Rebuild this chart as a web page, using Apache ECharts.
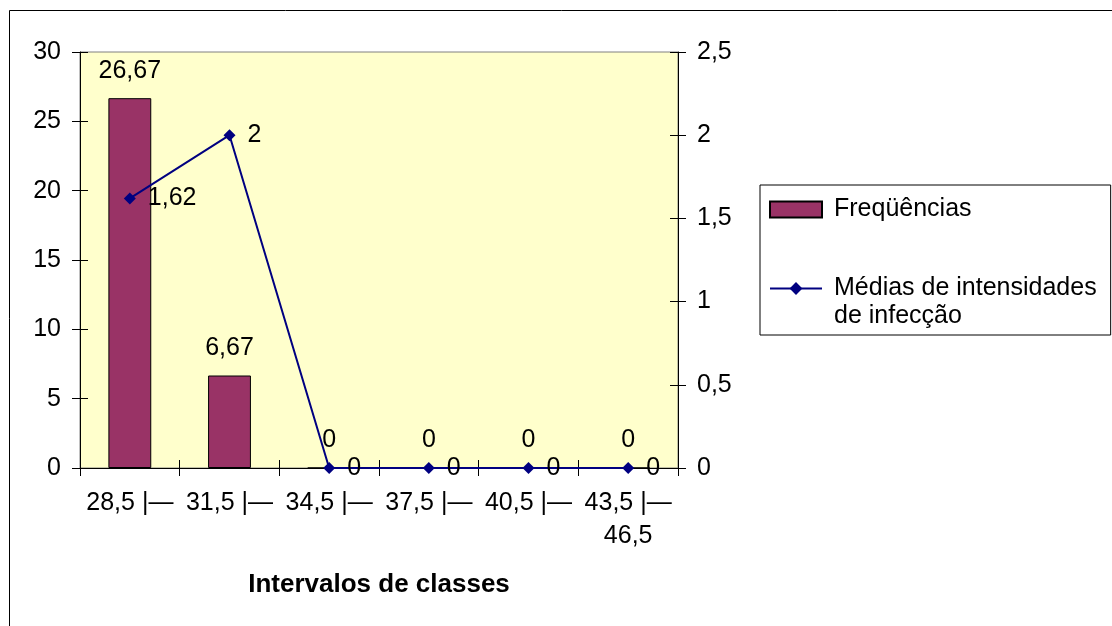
<!DOCTYPE html>
<html>
<head>
<meta charset="utf-8">
<script src="https://cdn.jsdelivr.net/npm/echarts@6/dist/echarts.min.js"></script>
<style>
  html, body { margin: 0; padding: 0; background: #fff; }
  #chart { width: 1112px; height: 626px; }
</style>
</head>
<body>
<div id="chart"></div>
<script>
// Class intervals (x-axis categories)
const categories = ['28,5 |—', '31,5 |—', '34,5 |—', '37,5 |—', '40,5 |—', '43,5 |—\n46,5'];
// Bar series: frequencies (%)
const frequencias = [26.67, 6.67, 0, 0, 0, 0];
// Line series: mean infection intensities
const medias = [1.62, 2, 0, 0, 0, 0];
// Tick values of both value axes
const leftTicks = [0, 5, 10, 15, 20, 25, 30];
const rightTicks = [0, 0.5, 1, 1.5, 2, 2.5];

const barName = 'Freqüências';
const lineName = 'Médias de intensidades de infecção';
const xTitle = 'Intervalos de classes';

const FONT = "'Liberation Sans', Arial, sans-serif";
const FS = 25;
const comma = v => String(v).replace('.', ',');

const gridRect = { left: 80, right: 434, top: 52, bottom: 158 };
const tickColor = '#000';

function valueAxis(ticks, opts) {
  return Object.assign({
    type: 'value',
    min: ticks[0],
    max: ticks[ticks.length - 1],
    interval: ticks[1] - ticks[0],
    splitLine: { show: false },
    axisLine: { show: true, lineStyle: { color: '#000', width: 1 } },
    axisTick: { show: true, inside: false, length: 8, lineStyle: { color: tickColor } },
    axisLabel: { color: '#000', fontFamily: FONT, fontSize: FS, margin: 19, formatter: comma }
  }, opts);
}

const chart = echarts.init(document.getElementById('chart'), null, { renderer: 'canvas' });

chart.setOption({
  animation: false,
  textStyle: { fontFamily: FONT, color: '#000' },
  graphic: [{
    type: 'rect',
    silent: true,
    z: -10,
    shape: { x: 9.5, y: 10.5, width: 1300, height: 800 },
    style: { fill: 'none', stroke: '#000', lineWidth: 1 }
  }],
  grid: [
    Object.assign({ show: true, backgroundColor: '#FFFFCC', borderColor: '#808080', borderWidth: 1, outerBoundsMode: 'none', containLabel: false }, gridRect),
    Object.assign({ show: false, outerBoundsMode: 'none', containLabel: false }, gridRect)
  ],
  legend: {
    left: 760,
    top: 185,
    orient: 'vertical',
    padding: [12, 14, 6, 9],
    itemGap: 26,
    itemWidth: 52,
    itemHeight: 16,
    backgroundColor: '#fff',
    borderColor: '#000',
    borderWidth: 1,
    borderRadius: 0,
    selectedMode: false,
    data: [{ name: barName, icon: 'rect' }, { name: lineName }],
    formatter: function (name) {
      if (name === lineName) {
        return '{p| }\n{t|Médias de intensidades}\n{t|de infecção}';
      }
      return '{t|' + name + '}';
    },
    textStyle: {
      fontFamily: FONT,
      fontSize: FS,
      color: '#000',
      rich: {
        t: { fontFamily: FONT, fontSize: FS, color: '#000', lineHeight: 28, padding: [0, 0, 0, 7] },
        p: { fontFamily: FONT, fontSize: FS, lineHeight: 28 }
      }
    }
  },
  xAxis: [{
    type: 'category',
    gridIndex: 0,
    data: categories,
    boundaryGap: true,
    axisLine: { show: true, lineStyle: { color: '#000', width: 1 } },
    axisTick: { show: true, inside: false, length: 8, alignWithLabel: false, lineStyle: { color: tickColor } },
    axisLabel: { interval: 0, color: '#000', fontFamily: FONT, fontSize: FS, lineHeight: 33, margin: 19 },
    name: xTitle,
    nameLocation: 'middle',
    nameGap: 104,
    nameTextStyle: { fontFamily: FONT, fontSize: 26, fontWeight: 'bold', color: '#000' }
  }, {
    // inner half of the crossing ticks
    type: 'category',
    gridIndex: 1,
    data: categories,
    position: 'bottom',
    boundaryGap: true,
    axisLine: { show: false },
    axisTick: { show: true, inside: true, length: 8, lineStyle: { color: tickColor } },
    axisLabel: { show: false }
  }],
  yAxis: [
    valueAxis(leftTicks, { gridIndex: 0, position: 'left' }),
    valueAxis(rightTicks, { gridIndex: 0, position: 'right' }),
    valueAxis(leftTicks, { gridIndex: 1, position: 'left', axisLine: { show: false },
      axisTick: { show: true, inside: true, length: 8, lineStyle: { color: tickColor } }, axisLabel: { show: false } }),
    valueAxis(rightTicks, { gridIndex: 1, position: 'right', axisLine: { show: false },
      axisTick: { show: true, inside: true, length: 8, lineStyle: { color: tickColor } }, axisLabel: { show: false } })
  ],
  series: [{
    name: barName,
    type: 'bar',
    xAxisIndex: 0,
    yAxisIndex: 0,
    data: frequencias,
    barWidth: '43%',
    itemStyle: { color: '#993366', borderColor: '#000', borderWidth: 1 },
    label: {
      show: true,
      position: 'top',
      distance: 15,
      fontFamily: FONT,
      fontSize: FS,
      color: '#000',
      formatter: p => comma(p.value)
    },
    z: 2
  }, {
    name: lineName,
    type: 'line',
    xAxisIndex: 0,
    yAxisIndex: 1,
    data: medias,
    symbol: 'diamond',
    symbolSize: 12,
    lineStyle: { color: '#000080', width: 2 },
    itemStyle: { color: '#000080' },
    label: {
      show: true,
      position: 'right',
      distance: 12,
      fontFamily: FONT,
      fontSize: FS,
      color: '#000',
      formatter: p => comma(p.value)
    },
    z: 3
  }]
});
</script>
</body>
</html>
